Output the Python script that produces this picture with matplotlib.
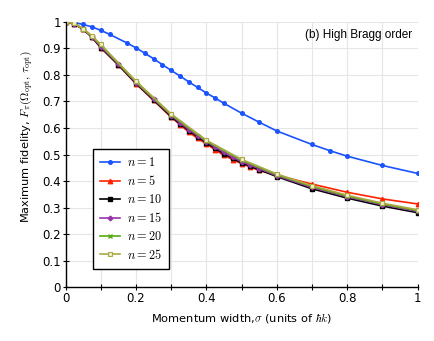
import matplotlib
matplotlib.use("Agg")
import matplotlib.pyplot as plt
import numpy as np

plt.rcParams['mathtext.fontset'] = 'cm'
plt.rcParams['font.family'] = ['DejaVu Sans']

# n = 1
x1 = [0, 0.025, 0.05, 0.075, 0.1, 0.125, 0.175, 0.2, 0.225, 0.25, 0.275, 0.3, 0.325,
      0.35, 0.375, 0.4, 0.425, 0.45, 0.5, 0.55, 0.6, 0.7, 0.75, 0.8, 0.9, 1.0]
y1 = [1.0, 0.997, 0.99, 0.981, 0.968, 0.953, 0.92, 0.902, 0.882, 0.861, 0.839, 0.817, 0.796,
      0.774, 0.753, 0.732, 0.713, 0.693, 0.656, 0.622, 0.589, 0.538, 0.515, 0.494, 0.459, 0.429]

# dense grid for n = 5, 10, 15
xd = [0, 0.025, 0.05, 0.075, 0.1, 0.15, 0.2, 0.25, 0.3, 0.325, 0.35, 0.375, 0.4, 0.425,
      0.45, 0.475, 0.5, 0.525, 0.55, 0.6, 0.7, 0.8, 0.9, 1.0]
y5 = [1.0, 0.992, 0.972, 0.942, 0.903, 0.837, 0.767, 0.704, 0.641, 0.613, 0.585, 0.561, 0.54, 0.518,
      0.497, 0.481, 0.466, 0.453, 0.44, 0.422, 0.389, 0.358, 0.333, 0.314]
y10 = [1.0, 0.992, 0.972, 0.942, 0.903, 0.838, 0.768, 0.706, 0.643, 0.616, 0.59, 0.567, 0.545, 0.523,
       0.503, 0.486, 0.468, 0.456, 0.443, 0.417, 0.371, 0.336, 0.306, 0.281]
y15 = [1.0, 0.993, 0.973, 0.944, 0.906, 0.841, 0.771, 0.709, 0.647, 0.62, 0.594, 0.571, 0.549, 0.528,
       0.508, 0.49, 0.473, 0.46, 0.447, 0.42, 0.376, 0.341, 0.311, 0.286]

# coarse grid for n = 20, 25
xc = [0, 0.025, 0.05, 0.075, 0.1, 0.2, 0.3, 0.4, 0.5, 0.6, 0.7, 0.8, 0.9, 1.0]
y20 = [1.0, 0.994, 0.973, 0.946, 0.912, 0.774, 0.65, 0.551, 0.479, 0.424, 0.38, 0.344, 0.314, 0.289]
y25 = [1.0, 0.994, 0.974, 0.947, 0.915, 0.777, 0.653, 0.554, 0.482, 0.427, 0.383, 0.347, 0.317, 0.292]

labels = [r'$n=1$', r'$n=5$', r'$n=10$', r'$n=15$', r'$n=20$', r'$n=25$']

fig = plt.figure(figsize=(4.34, 3.41), dpi=100)
ax = fig.add_axes([0.151, 0.1575, 0.811, 0.7785])

lw = 1.2
ax.plot(x1, y1, color='#1a53ff', marker='o', ms=2.6, lw=lw, label=labels[0])
ax.plot(xd, y5, color='#ff2200', marker='^', ms=3.2, lw=lw, label=labels[1])
ax.plot(xd, y10, color='#000000', marker='s', ms=2.8, lw=lw, label=labels[2])
ax.plot(xd, y15, color='#9933aa', marker='D', ms=2.4, lw=lw, label=labels[3])
ax.plot(xc, y20, color='#55aa11', marker='x', ms=3, mew=1, lw=lw, label=labels[4])
ax.plot(xc, y25, color='#aaaa44', marker='s', ms=3, mfc='#eeeecc', mew=0.8, lw=lw, label=labels[5])

ax.set_xlim(0, 1)
ax.set_ylim(0, 1)
ax.set_xticks(np.arange(0, 1.01, 0.1))
ax.set_xticklabels(['0', '', '0.2', '', '0.4', '', '0.6', '', '0.8', '', '1'])
ax.set_yticks(np.arange(0, 1.01, 0.1))
ax.set_yticklabels(['0', '0.1', '0.2', '0.3', '0.4', '0.5', '0.6', '0.7', '0.8', '0.9', '1'])
ax.grid(True, color='#e6e6e6', lw=0.8)
ax.set_axisbelow(True)
for s in ['top', 'right']:
    ax.spines[s].set_visible(False)
ax.spines['left'].set_linewidth(1.0)
ax.spines['bottom'].set_linewidth(1.0)
ax.tick_params(direction='inout', length=4, width=0.8, labelsize=8.5, pad=1.5)

ax.set_xlabel(r'Momentum width,$\sigma$ (units of $\hbar k$)', fontsize=8.2, labelpad=4)
ax.set_ylabel(r'Maximum fidelity, $F_\pi(\Omega_{\rm opt},\,\tau_{\rm opt})$', fontsize=8.2)
ax.yaxis.set_label_coords(-0.088, 0.57)

ax.text(0.985, 0.95, '(b) High Bragg order', transform=ax.transAxes, ha='right', va='center',
        fontsize=8.5, family='Liberation Sans')

leg = ax.legend(loc='upper left', bbox_to_anchor=(0.078, 0.521), fontsize=8.8, frameon=True,
                fancybox=False, edgecolor='black', framealpha=1, handlelength=1.6,
                labelspacing=0.4, borderpad=0.6, handletextpad=0.6, borderaxespad=0)
leg.get_frame().set_linewidth(1.0)

fig.savefig('out.png', dpi=100)
